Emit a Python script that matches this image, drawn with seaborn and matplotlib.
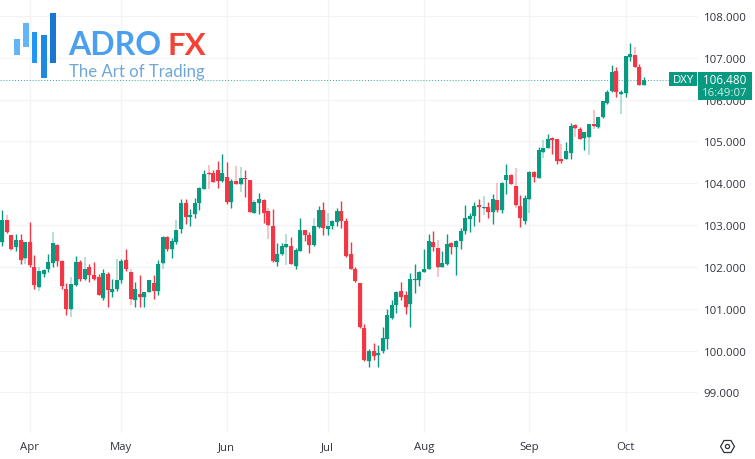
import matplotlib
matplotlib.use('Agg')
import matplotlib.pyplot as plt
from matplotlib.patches import Rectangle
import pandas as pd
import seaborn as sns

# daily DXY candles
opens = [102.60, 103.12, 102.76, 102.48, 102.64, 102.21, 102.59, 102.01, 101.52, 101.83,
         101.95, 102.09, 102.52, 102.14, 101.48, 100.99, 101.56, 102.11, 101.71, 102.00,
         101.80, 101.75, 101.25, 101.83, 101.40, 101.47, 101.68, 102.16, 101.87, 101.21,
         101.36, 101.28, 101.40, 101.61, 101.43, 102.09, 102.71, 102.42, 102.59, 102.90,
         103.52, 103.20, 103.26, 103.54, 103.86, 104.24, 104.24, 104.31, 104.05, 104.15,
         103.56, 104.05, 103.99, 104.12, 104.08, 103.29, 103.54, 103.60, 103.33, 102.97,
         102.11, 102.30, 102.47, 102.51, 102.02, 102.38, 102.88, 102.76, 102.52, 102.96,
         103.36, 102.91, 102.97, 103.08, 103.35, 103.09, 102.31, 101.95, 101.61, 100.53,
         99.76, 99.98, 99.90, 99.99, 100.28, 100.78, 101.09, 101.42, 101.34, 101.11,
         101.68, 101.69, 101.88, 101.96, 102.59, 102.45, 102.01, 102.07, 102.57, 102.48,
         102.63, 102.85, 103.15, 103.23, 103.48, 103.41, 103.43, 103.31, 103.60, 103.36,
         104.08, 104.20, 103.93, 103.46, 103.10, 103.62, 104.27, 104.13, 104.75, 104.85,
         105.08, 105.06, 104.58, 104.58, 104.73, 105.40, 105.30, 105.09, 105.10, 105.43,
         105.35, 105.58, 105.92, 106.20, 106.68, 106.14, 106.16, 107.02, 107.06, 106.78,
         106.36]
closes = [103.12, 102.84, 102.43, 102.65, 102.17, 102.59, 102.04, 101.56, 101.90, 101.93,
          102.11, 102.57, 102.15, 101.54, 100.99, 101.59, 102.11, 101.71, 101.95, 101.80,
          101.72, 101.32, 101.85, 101.45, 101.48, 101.68, 102.14, 101.95, 101.23, 101.47,
          101.28, 101.40, 101.68, 101.43, 102.07, 102.72, 102.43, 102.62, 102.88, 103.52,
          103.20, 103.24, 103.52, 103.88, 104.22, 104.22, 104.03, 104.05, 104.24, 103.55,
          104.05, 103.99, 104.13, 104.10, 103.32, 103.55, 103.62, 103.30, 103.00, 102.14,
          102.32, 102.50, 102.54, 102.08, 102.40, 102.88, 102.76, 102.52, 102.97, 103.36,
          102.92, 102.97, 103.09, 103.35, 103.10, 102.26, 101.96, 101.67, 100.57, 99.78,
          99.98, 99.88, 99.94, 100.29, 100.85, 101.10, 101.40, 101.29, 101.04, 101.71,
          101.71, 101.87, 101.96, 102.62, 102.47, 102.01, 102.09, 102.54, 102.47, 102.63,
          102.86, 103.17, 103.22, 103.45, 103.44, 103.43, 103.31, 103.62, 103.37, 104.01,
          104.20, 103.99, 103.48, 103.18, 103.65, 104.27, 104.15, 104.80, 104.85, 105.06,
          105.04, 104.53, 104.53, 104.77, 105.36, 105.33, 105.06, 105.22, 105.43, 105.38,
          105.58, 105.96, 106.18, 106.66, 106.18, 106.18, 107.04, 107.10, 106.78, 106.34,
          106.48]
highs = [103.37, 103.12, 102.76, 102.79, 102.79, 102.60, 103.07, 102.28, 101.90, 101.96,
         102.31, 102.57, 102.55, 102.16, 101.61, 101.59, 102.26, 102.16, 101.95, 102.07,
         102.13, 101.83, 101.95, 101.87, 101.71, 101.68, 102.20, 102.43, 101.87, 101.65,
         101.80, 101.41, 101.69, 101.80, 102.16, 102.74, 102.74, 102.70, 102.88, 103.62,
         103.62, 103.38, 103.66, 103.90, 104.32, 104.26, 104.31, 104.53, 104.71, 104.52,
         104.10, 104.05, 104.13, 104.31, 104.08, 103.55, 103.76, 103.62, 103.33, 103.38,
         102.58, 102.58, 102.54, 102.72, 102.46, 103.17, 102.88, 102.84, 102.97, 103.46,
         103.56, 102.97, 103.12, 103.40, 103.57, 103.18, 102.59, 101.99, 101.61, 100.63,
         100.03, 100.19, 100.13, 100.56, 100.99, 101.20, 101.43, 101.65, 101.43, 101.85,
         102.07, 101.91, 102.44, 102.79, 102.85, 102.45, 102.39, 102.80, 102.59, 102.65,
         102.93, 103.48, 103.30, 103.55, 103.63, 103.43, 103.55, 103.74, 103.60, 104.02,
         104.46, 104.22, 103.93, 103.72, 103.72, 104.30, 104.30, 104.86, 104.85, 105.17,
         105.10, 105.06, 104.58, 104.98, 105.44, 105.42, 105.34, 105.22, 105.43, 105.43,
         105.58, 105.96, 106.22, 106.83, 106.78, 106.22, 107.04, 107.36, 107.06, 106.86,
         106.54]
lows = [102.51, 102.82, 102.43, 102.39, 102.07, 102.21, 102.00, 101.47, 101.52, 101.76,
        101.88, 102.01, 102.03, 101.47, 100.85, 100.99, 101.55, 101.67, 101.69, 101.64,
        101.69, 101.32, 101.21, 101.04, 101.29, 101.43, 101.61, 101.91, 101.23, 101.05,
        101.05, 101.05, 101.39, 101.23, 101.32, 102.09, 102.39, 102.21, 102.54, 102.81,
        103.02, 102.98, 103.17, 103.36, 103.86, 104.22, 104.02, 103.88, 104.04, 103.50,
        103.41, 103.98, 103.99, 103.68, 103.32, 103.29, 103.27, 103.05, 103.00, 102.13,
        102.02, 102.29, 102.47, 102.06, 101.95, 102.38, 102.61, 102.33, 102.49, 102.94,
        102.77, 102.77, 102.90, 102.97, 102.93, 102.24, 101.95, 101.65, 100.53, 99.75,
        99.61, 99.77, 99.61, 99.94, 100.03, 100.75, 100.91, 101.20, 100.87, 100.57,
        101.37, 101.55, 101.87, 101.95, 102.39, 102.01, 101.99, 102.05, 102.31, 101.80,
        102.43, 102.79, 102.83, 102.99, 103.07, 103.41, 103.16, 103.03, 103.32, 103.29,
        103.75, 103.98, 103.48, 102.96, 103.03, 103.62, 104.04, 104.13, 104.75, 104.84,
        104.69, 104.45, 104.48, 104.57, 104.58, 105.33, 105.05, 104.80, 105.10, 105.38,
        105.32, 105.55, 105.90, 106.18, 106.06, 106.14, 106.06, 106.92, 106.78, 106.34,
        106.35]

# faint wick parts that show up as a pale shadow in the screenshot
ghost_candle = [1, 2, 5, 8, 11, 15, 18, 25, 28, 35, 38, 45, 51, 52, 55, 58, 62, 68, 71,
                95, 105, 108, 112, 115, 118, 122, 125, 128, 129, 135, 138]
ghost_low = [103.12, 102.39, 102.07, 101.43, 102.57, 100.80, 101.95, 101.68, 101.08, 101.95,
             102.88, 103.86, 104.05, 103.80, 103.55, 102.66, 102.05, 102.97, 102.97,
             101.76, 103.24, 103.60, 103.40, 103.29, 104.61, 104.58, 105.10, 104.67, 105.30,
             105.66, 107.06]
ghost_high = [103.24, 102.43, 102.21, 102.01, 102.83, 101.76, 102.23, 102.19, 101.95, 102.09,
              103.12, 104.43, 104.42, 104.38, 103.60, 103.42, 102.78, 103.16, 103.29,
              102.64, 103.70, 104.01, 104.37, 103.62, 105.04, 104.93, 105.33, 105.10, 105.75,
              106.14, 107.26]

price_ticks = [99, 100, 101, 102, 103, 104, 105, 106, 107, 108]
month_ticks = [6, 26, 49, 71, 92, 115, 136]
month_labels = ['Apr', 'May', 'Jun', 'Jul', 'Aug', 'Sep', 'Oct']
last_price = 106.48

GREEN = '#089981'
RED = '#F23645'
PALETTE = {'up': GREEN, 'down': RED}
W, H = 755, 460

sns.set_theme(style='white')
plt.rcParams['font.family'] = ['Open Sans', 'DejaVu Sans']

moves = ['up' if c >= o else 'down' for o, c in zip(opens, closes)]
wicks = pd.DataFrame({
    'candle': list(range(len(opens))) * 2,
    'price': lows + highs,
    'move': moves * 2,
})
bodies = pd.DataFrame({
    'candle': list(range(len(opens))) * 2,
    'price': opens + closes,
    'move': moves * 2,
})
ghosts = pd.DataFrame({
    'candle': ghost_candle * 2,
    'price': ghost_low + ghost_high,
    'move': [moves[i] for i in ghost_candle] * 2,
})

fig = plt.figure(figsize=(W / 100, H / 100), dpi=100, facecolor='white')
# main pane: 698 px wide, 434 px high
ax = fig.add_axes([0, 1 - 434 / H, 698 / W, 434 / H])


def candles(frame, width, alpha=1.0, z=3):
    sns.lineplot(data=frame, x='candle', y='price', hue='move', units='candle',
                 estimator=None, sort=False, palette=PALETTE, linewidth=width,
                 alpha=alpha, legend=False, ax=ax, zorder=z, solid_capstyle='butt')


candles(ghosts, 1.1, alpha=0.38, z=2)
candles(bodies, 3.4, alpha=0.2, z=2)
candles(wicks, 1.0)
candles(bodies, 2.85)

ax.set_xlim(-0.5, 151.8)
ax.set_ylim(98.03, 108.407)
ax.set_xlabel('')
ax.set_ylabel('')
ax.set_xticks(month_ticks)
ax.set_xticklabels(month_labels)
ax.set_yticks(price_ticks)
ax.set_yticklabels([f'{p:.3f}' for p in price_ticks])
ax.yaxis.tick_right()
ax.tick_params(axis='y', length=0, pad=4.2, labelsize=8.2, labelcolor='#2f333d')
ax.tick_params(axis='x', length=0, pad=6, labelsize=8.2, labelcolor='#2f333d')
ax.grid(True, color='#f3f3f5', linewidth=0.9)
ax.set_axisbelow(True)
sns.despine(ax=ax, left=True, bottom=True, right=True, top=True)
ax.axhline(last_price, color=GREEN, linewidth=0.7, alpha=0.85, linestyle=(0, (1, 2)), zorder=2)


def box(x0, y0, x1, y1, color, z=4):
    fig.add_artist(Rectangle((x0 / W, 1 - y1 / H), (x1 - x0) / W, (y1 - y0) / H,
                             transform=fig.transFigure, facecolor=color,
                             edgecolor='none', zorder=z))


def label(x, y, s, **kw):
    fig.text(x / W, 1 - y / H, s, zorder=6, **kw)


# last price tags
box(669, 73, 697, 87, GREEN)
box(698, 73, 752, 101, GREEN)
label(683, 80.5, 'DXY', color='white', fontsize=8.2, ha='center', va='center')
label(725, 80.5, '106.480', color='white', fontsize=8.4, ha='center', va='center')
label(725, 93.5, '16:49:07', color='#cfeee8', fontsize=8.2, ha='center', va='center')

# logo bars
box(14, 40, 20, 56, '#64b5f6')
box(23, 24, 29, 48, '#64b5f6')
box(32, 33, 37, 64, '#2196f3')
box(41, 36, 47, 79, '#1e88e5')
box(50, 14, 56, 64, '#1976d2')
label(68, 55, 'ADRO', color='#4a9fee', fontsize=23, fontweight='bold', family='Lato',
      ha='left', va='baseline')
label(167, 55, 'FX', color='#f44336', fontsize=22.5, fontweight='bold', family='Lato',
      ha='left', va='baseline')
label(69, 76.5, 'The Art of Trading', color='#6ea6d8', fontsize=12.1, family='Lato',
      ha='left', va='baseline')

# settings icon
ax_icon = fig.add_axes([0, 0, 1, 1], facecolor='none')
ax_icon.set_xlim(0, W)
ax_icon.set_ylim(H, 0)
ax_icon.axis('off')
ax_icon.plot([727], [447], marker='H', markersize=10, markerfacecolor='none',
             markeredgecolor='#2f333d', markeredgewidth=0.9)
ax_icon.plot([727], [447], marker='o', markersize=3, markerfacecolor='none',
             markeredgecolor='#2f333d', markeredgewidth=0.9)

fig.savefig('out.png', dpi=100)
